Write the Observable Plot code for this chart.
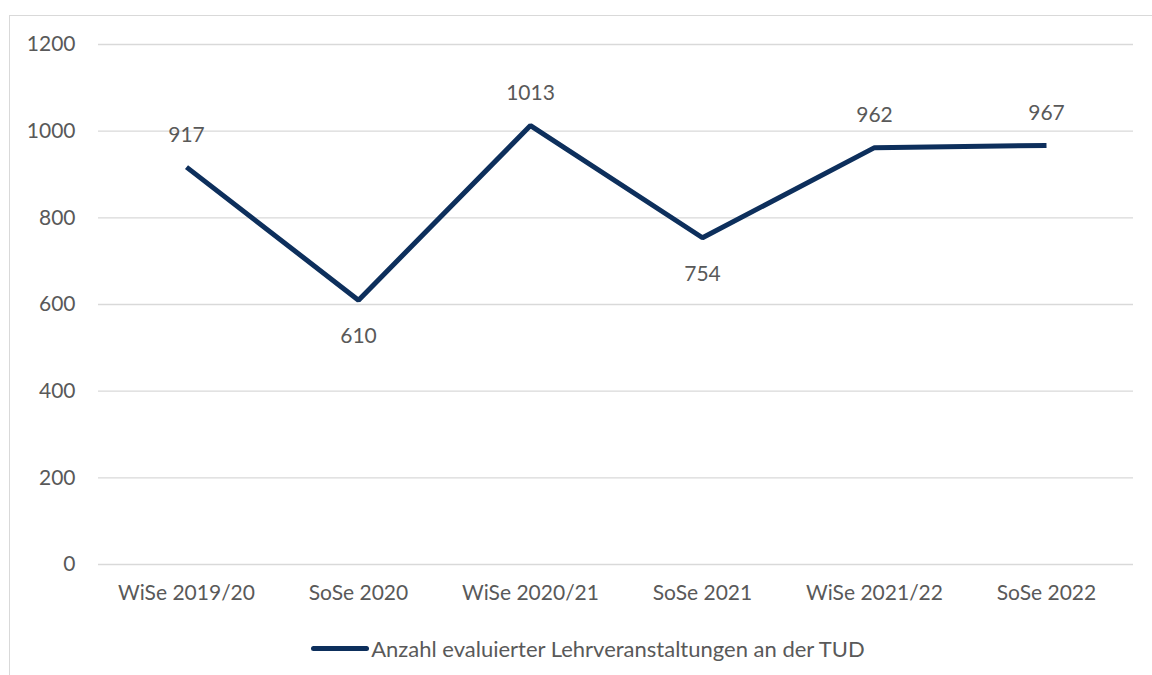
<!DOCTYPE html>
<html>
<head>
<meta charset="utf-8">
<script src="https://cdn.jsdelivr.net/npm/d3@7"></script>
<script src="https://cdn.jsdelivr.net/npm/@observablehq/plot@0.6"></script>
<style>
  html, body { margin: 0; padding: 0; background: #fff; }
  body { width: 1152px; height: 675px; position: relative; overflow: hidden; font-family: Lato, "Open Sans", sans-serif; }
  #frame { position: absolute; left: 9px; top: 15px; width: 1200px; height: 700px; border: 1px solid #d9d9d9; box-sizing: border-box; }
  #chart { position: absolute; left: 0; top: 0; }
  #legend { position: absolute; left: 0; top: 635px; width: 1152px; box-sizing: border-box; padding-left: 24px; display: flex; justify-content: center; align-items: center; color: #595959; font-size: 22px; }
  #legend .sw { display: inline-block; width: 58px; height: 5px; border-radius: 3px; background: #0d2f5c; margin-right: 2px; }
</style>
</head>
<body>
<div id="frame"></div>
<div id="chart"></div>
<div id="legend"><span class="sw"></span><span id="legtext"></span></div>
<script>
const semesters = ["WiSe 2019/20", "SoSe 2020", "WiSe 2020/21", "SoSe 2021", "WiSe 2021/22", "SoSe 2022"];
const counts = [917, 610, 1013, 754, 962, 967];
const labelAbove = [true, false, true, false, true, true];
const yTicks = [0, 200, 400, 600, 800, 1000, 1200];
const seriesName = "Anzahl evaluierter Lehrveranstaltungen an der TUD";

const data = semesters.map((s, i) => ({semester: s, value: counts[i], above: labelAbove[i]}));
const color = "#0d2f5c";
const textColor = "#595959";
const fs = 21;

const chart = Plot.plot({
  width: 1152,
  height: 620,
  marginLeft: 98,
  marginRight: 19,
  marginTop: 44,
  marginBottom: 56,
  style: {fontFamily: "Lato, 'Open Sans', sans-serif", fontSize: fs + "px", color: textColor, background: "transparent"},
  x: {type: "point", domain: semesters, padding: 0.5, label: null},
  y: {domain: [0, 1200], label: null},
  marks: [
    Plot.ruleY(yTicks, {stroke: "#d9d9d9", strokeWidth: 1.3, strokeOpacity: 1}),
    Plot.axisY({ticks: yTicks, tickFormat: d => String(d), tickSize: 0, tickPadding: 23, fill: textColor, fontSize: fs, label: null}),
    Plot.axisX({tickSize: 0, tickPadding: 21, fill: textColor, fontSize: fs, label: null}),
    Plot.line(data, {x: "semester", y: "value", stroke: color, strokeWidth: 5, strokeLinejoin: "miter", strokeLinecap: "butt"}),
    Plot.text(data.filter(d => d.above), {x: "semester", y: "value", text: d => String(d.value), dy: -32, fill: textColor, fontSize: fs}),
    Plot.text(data.filter(d => !d.above), {x: "semester", y: "value", text: d => String(d.value), dy: 36, fill: textColor, fontSize: fs})
  ]
});
document.getElementById("chart").appendChild(chart);
document.getElementById("legtext").textContent = seriesName;
</script>
</body>
</html>
